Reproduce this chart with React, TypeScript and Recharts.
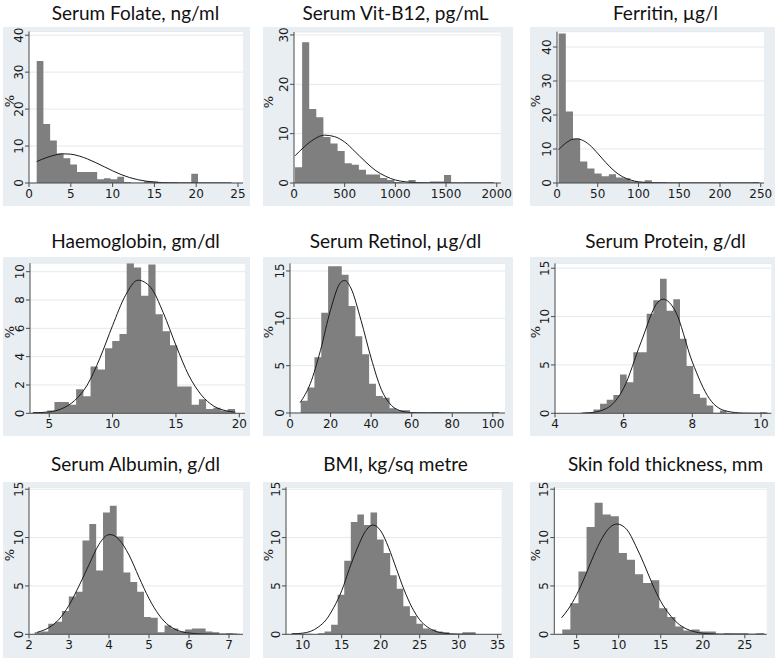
import React from 'react';
import { ComposedChart, Area, Line, XAxis, YAxis, CartesianGrid } from 'recharts';

const FONT_TICK = '"DejaVu Sans", Verdana, sans-serif';
const FONT_TITLE = 'Lato, "Open Sans", sans-serif';
const PANEL_BG = '#e8eef2';
const GRID = '#e3e9ed';
const AXIS = '#4a4a4a';
const BAR = '#7f7f7f';
const CURVE = '#1a1a1a';

// titles
const titles = [
  'Serum Folate, ng/ml', 'Serum Vit-B12, pg/mL', 'Ferritin, µg/l',
  'Haemoglobin, gm/dl', 'Serum Retinol, µg/dl', 'Serum Protein, g/dl',
  'Serum Albumin, g/dl', 'BMI, kg/sq metre', 'Skin fold thickness, mm',
];

// histogram bins: first edge, bin width, % per bin
const folateStart = 0.92, folateWidth = 0.804;
const folateBins = [33, 16, 11.5, 8, 6.7, 5, 3, 3, 3, 1, 1.3, 1, 1.7, 0.3, 0.1, 0.1, 0.5, 0.4, 0.05, 0.1, 0.2, 0.05, 0.05, 2.5, 0.05, 0.05, 0.1, 0.1, 0.1];
const b12Start = 10, b12Width = 70;
const b12Bins = [3.2, 28.5, 15, 13.3, 9.3, 8, 6.5, 4, 3.7, 2.7, 1.7, 1.7, 1.0, 0.6, 0.2, 0.1, 0.6, 0.1, 0.1, 0.3, 0.3, 1.6, 0.05, 0, 0.05, 0.05, 0.05, 0.1];
const ferritinStart = 2, ferritinWidth = 8.8;
const ferritinBins = [44, 21, 13, 6.3, 4.3, 2.8, 2.0, 2.6, 1.6, 1.4, 0.5, 0.4, 0.8, 0.3, 0.2, 0.1, 0.1, 0.1, 0.05, 0.1, 0.1, 0.1, 0.05, 0.1, 0.1, 0.05, 0.1, 0.2];
const hbStart = 3.7, hbWidth = 0.57;
const hbBins = [0.1, 0.05, 0.2, 0.8, 0.8, 0.6, 1.7, 1.2, 3.3, 3.1, 4.6, 5.1, 5.6, 10.6, 10.3, 8.3, 10.5, 7.0, 5.8, 4.8, 1.9, 1.9, 0.6, 1.0, 0.3, 0.4, 0.2, 0.3];
const retinolStart = 5.3, retinolWidth = 3.37;
const retinolBins = [1.3, 2.7, 5.9, 10.6, 15.5, 15.5, 14.6, 11.3, 8.1, 6.2, 3.1, 1.8, 1.6, 0.5, 0.3, 0.3, 0.05, 0.05, 0.05, 0.1, 0.1, 0.05, 0, 0, 0, 0, 0, 0, 0.1];
const proteinStart = 4.73, proteinWidth = 0.194;
const proteinBins = [0.05, 0.1, 0.4, 1.0, 1.4, 1.9, 4.0, 3.2, 6.3, 6.3, 10.3, 11.7, 13.9, 10.6, 11.8, 7.7, 4.9, 2.0, 1.6, 0.8, 0.05, 0.3, 0, 0, 0, 0, 0, 0.1];
const albuminStart = 2.14, albuminWidth = 0.171;
const albuminBins = [0.2, 0.3, 1.1, 1.3, 2.4, 3.9, 4.4, 9.7, 11.4, 6.6, 12.6, 13.3, 10.1, 6.4, 5.4, 4.4, 1.8, 1.7, 0.2, 0.9, 0.6, 0.3, 0.5, 0.6, 0.6, 0.3, 0.2, 0.05, 0.1, 0.05];
const bmiStart = 8.59, bmiWidth = 0.842;
const bmiBins = [0.1, 0.05, 0.05, 0, 0.1, 0.3, 1.0, 4.1, 7.6, 11.6, 12.4, 11.3, 12.6, 9.8, 8.4, 6.1, 4.7, 2.9, 1.9, 1.1, 0.6, 0.5, 0.3, 0.2, 0.05, 0.05, 0.2, 0.2];
const skinStart = 3.29, skinWidth = 0.961;
const skinBins = [0.5, 3.2, 6.5, 11.1, 13.6, 12.4, 12.2, 8.4, 7.7, 6.2, 5.3, 5.6, 2.7, 1.8, 0.8, 0.4, 0.5, 0.3, 0.3, 0, 0.1, 0.1, 0.1, 0, 0.1];

// normal curves
const folateCurveX = [0.92, 2, 3, 4, 5, 6, 7, 8, 9, 10, 11, 12, 13, 14, 15, 16, 17, 18, 20, 24.2];
const folateCurveY = [5.8, 6.8, 7.5, 7.9, 7.8, 7.3, 6.5, 5.5, 4.4, 3.3, 2.3, 1.5, 0.9, 0.5, 0.25, 0.1, 0.04, 0.02, 0, 0];
const b12CurveX = [10, 100, 200, 300, 400, 500, 600, 700, 800, 900, 1000, 1100, 1200, 1300, 1500, 1970];
const b12CurveY = [5.5, 7.3, 8.9, 9.7, 9.4, 8.3, 6.4, 4.4, 2.6, 1.4, 0.6, 0.25, 0.08, 0.02, 0, 0];
const ferritinCurveX = [2, 10, 20, 25, 30, 40, 50, 60, 70, 80, 90, 100, 110, 120, 140, 248];
const ferritinCurveY = [9.8, 11.6, 12.9, 13, 12.7, 11.2, 8.7, 6, 3.6, 1.9, 0.9, 0.35, 0.12, 0.04, 0, 0];
const hbCurveX = [3.7, 5, 6, 7, 8, 9, 10, 11, 12, 13, 14, 15, 16, 17, 18, 19, 19.7];
const hbCurveY = [0.03, 0.1, 0.33, 0.9, 2.0, 3.9, 6.2, 8.3, 9.4, 8.9, 7.1, 4.8, 2.7, 1.3, 0.5, 0.17, 0.08];
const retinolCurveX = [5, 10, 15, 20, 25, 27, 30, 35, 40, 45, 50, 55, 60, 65, 70, 103];
const retinolCurveY = [1.1, 3.1, 6.6, 10.9, 13.8, 14, 13.2, 9.8, 5.8, 2.5, 0.8, 0.2, 0.04, 0.01, 0, 0];
const proteinCurveX = [4.8, 5, 5.5, 6, 6.5, 7, 7.15, 7.5, 8, 8.5, 9, 9.5, 10, 10.2];
const proteinCurveY = [0.02, 0.05, 0.5, 2.6, 7.3, 11.5, 11.8, 10.6, 5.3, 1.5, 0.22, 0.02, 0, 0];
const albuminCurveX = [2.2, 2.5, 2.75, 3, 3.25, 3.5, 3.75, 4, 4.05, 4.25, 4.5, 4.75, 5, 5.25, 5.5, 6, 6.5, 7.2];
const albuminCurveY = [0.2, 0.7, 1.55, 3.0, 5.0, 7.2, 9.3, 10.3, 10.3, 9.8, 8.2, 5.9, 3.7, 2.0, 0.9, 0.13, 0.01, 0];
const bmiCurveX = [8.6, 10, 11, 12, 13, 14, 15, 16, 17, 18, 19, 20, 21, 22, 23, 24, 25, 26, 27, 28, 30, 32.2];
const bmiCurveY = [0.04, 0.12, 0.3, 0.75, 1.5, 2.8, 4.5, 6.8, 8.9, 10.6, 11.3, 10.7, 9.0, 6.8, 4.6, 2.8, 1.5, 0.75, 0.32, 0.12, 0.01, 0];
const skinCurveX = [3.2, 4, 5, 6, 7, 8, 9, 9.8, 11, 12, 13, 14, 15, 16, 17, 18, 19, 20, 22, 24, 27.3];
const skinCurveY = [1.7, 2.6, 4.1, 6.0, 8.1, 9.9, 11.1, 11.4, 10.8, 9.2, 7.3, 5.2, 3.4, 2.1, 1.15, 0.58, 0.27, 0.11, 0.02, 0, 0];

// axis ticks
const xTicksList = [
  [0, 5, 10, 15, 20, 25], [0, 500, 1000, 1500, 2000], [0, 50, 100, 150, 200, 250],
  [5, 10, 15, 20], [0, 20, 40, 60, 80, 100], [4, 6, 8, 10],
  [2, 3, 4, 5, 6, 7], [10, 15, 20, 25, 30, 35], [5, 10, 15, 20, 25],
];
const yTicksList = [
  [0, 10, 20, 30, 40], [0, 10, 20, 30], [0, 10, 20, 30, 40],
  [0, 2, 4, 6, 8, 10], [0, 5, 10, 15], [0, 5, 10, 15],
  [0, 5, 10, 15], [0, 5, 10, 15], [0, 5, 10, 15],
];
const xDomains = [[0, 25.6], [0, 2040], [0, 254], [3.48, 20.45], [0, 106], [4, 10.3], [2, 7.35], [7.86, 35.5], [2.34, 27.6]];
const yDomains = [[0, 41], [0, 30.6], [0, 44.5], [0, 10.6], [0, 15.8], [0, 15.5], [0, 15.2], [0, 15.2], [0, 15.2]];

// layout (page pixels)
const cols = [[3, 250], [263, 513], [530, 775]];
const rows = [[27, 206], [257, 436], [482, 658]];
const titleX = [135.5, 395.5, 665.5];
const titleY = [12, 240, 463];
const pctX = [9, 268, 535];
const plots = [
  { l: 29, t: 31.5, r: 243, b: 183 }, { l: 294, t: 32, r: 500.8, b: 183 }, { l: 557, t: 31.7, r: 764, b: 183 },
  { l: 30, t: 263.2, r: 245, b: 413.3 }, { l: 290, t: 263.4, r: 505, b: 413 }, { l: 555, t: 263.4, r: 771.3, b: 413.3 },
  { l: 29, t: 487.3, r: 243, b: 634.3 }, { l: 286, t: 487.3, r: 501.6, b: 634.3 }, { l: 554.3, t: 487.3, r: 766.7, b: 634.3 },
];

function steps(start: number, width: number, values: number[]) {
  const pts = values.map((v, i) => ({ x: start + i * width, y: v }));
  pts.push({ x: start + values.length * width, y: values[values.length - 1] });
  return pts;
}
const pts = (xs: number[], ys: number[]) => xs.map((x, i) => ({ x, y: ys[i] }));

const barsList = [
  steps(folateStart, folateWidth, folateBins), steps(b12Start, b12Width, b12Bins), steps(ferritinStart, ferritinWidth, ferritinBins),
  steps(hbStart, hbWidth, hbBins), steps(retinolStart, retinolWidth, retinolBins), steps(proteinStart, proteinWidth, proteinBins),
  steps(albuminStart, albuminWidth, albuminBins), steps(bmiStart, bmiWidth, bmiBins), steps(skinStart, skinWidth, skinBins),
];
const curvesList = [
  pts(folateCurveX, folateCurveY), pts(b12CurveX, b12CurveY), pts(ferritinCurveX, ferritinCurveY),
  pts(hbCurveX, hbCurveY), pts(retinolCurveX, retinolCurveY), pts(proteinCurveX, proteinCurveY),
  pts(albuminCurveX, albuminCurveY), pts(bmiCurveX, bmiCurveY), pts(skinCurveX, skinCurveY),
];

const YTick = (props: any) => {
  const { x, y, payload } = props;
  return (
    <text x={x} y={y} transform={`rotate(-90, ${x}, ${y})`} textAnchor="middle"
      fontSize={12} fontFamily={FONT_TICK} fill="#1a1a1a">{payload.value}</text>
  );
};

const YW = 20, XH = 20;

function Panel({ i }: { i: number }) {
  const col = i % 3, row = Math.floor(i / 3);
  const [bl, br] = cols[col];
  const [bt, bb] = rows[row];
  const plot = plots[i];
  const w = br - bl, h = bb - bt;
  const margin = { top: plot.t - bt, left: plot.l - bl - YW, right: br - plot.r, bottom: bb - plot.b - XH };
  return (
    <>
      <div style={{ position: 'absolute', left: titleX[col], top: titleY[row], transform: 'translate(-50%, -50%)',
        fontFamily: FONT_TITLE, fontSize: 19, lineHeight: 1, whiteSpace: 'nowrap', color: '#111' }}>{titles[i]}</div>
      <div style={{ position: 'absolute', left: bl, top: bt, width: w, height: h, background: PANEL_BG }}>
        <ComposedChart width={w} height={h} margin={margin} style={{ overflow: 'visible' }}>
          <CartesianGrid vertical={false} stroke={GRID} fill="#fff" />
          <XAxis type="number" dataKey="x" domain={xDomains[i]} ticks={xTicksList[i]} allowDataOverflow interval={0}
            height={XH} tickSize={4} stroke={AXIS} tick={{ fontSize: 12, fontFamily: FONT_TICK, fill: '#1a1a1a' }} />
          <YAxis type="number" domain={yDomains[i]} ticks={yTicksList[i]} allowDataOverflow interval={0}
            width={YW} tickSize={4} stroke={AXIS} tick={<YTick />} />
          <Area data={barsList[i]} dataKey="y" type="stepAfter" fill={BAR} fillOpacity={1} stroke="none" isAnimationActive={false} />
          <Line data={curvesList[i]} dataKey="y" type="monotone" stroke={CURVE} strokeWidth={1} dot={false} isAnimationActive={false} />
        </ComposedChart>
      </div>
      <div style={{ position: 'absolute', left: pctX[col], top: (plot.t + plot.b) / 2 - 6, transform: 'translate(-50%, -50%) rotate(-90deg)',
        fontFamily: FONT_TICK, fontSize: 13, lineHeight: 1, color: '#1a1a1a' }}>%</div>
    </>
  );
}

export default function App() {
  return (
    <div style={{ position: 'absolute', left: 0, top: 0, width: 778, height: 660, background: '#fff', overflow: 'hidden' }}>
      {titles.map((_, i) => <Panel key={i} i={i} />)}
    </div>
  );
}
